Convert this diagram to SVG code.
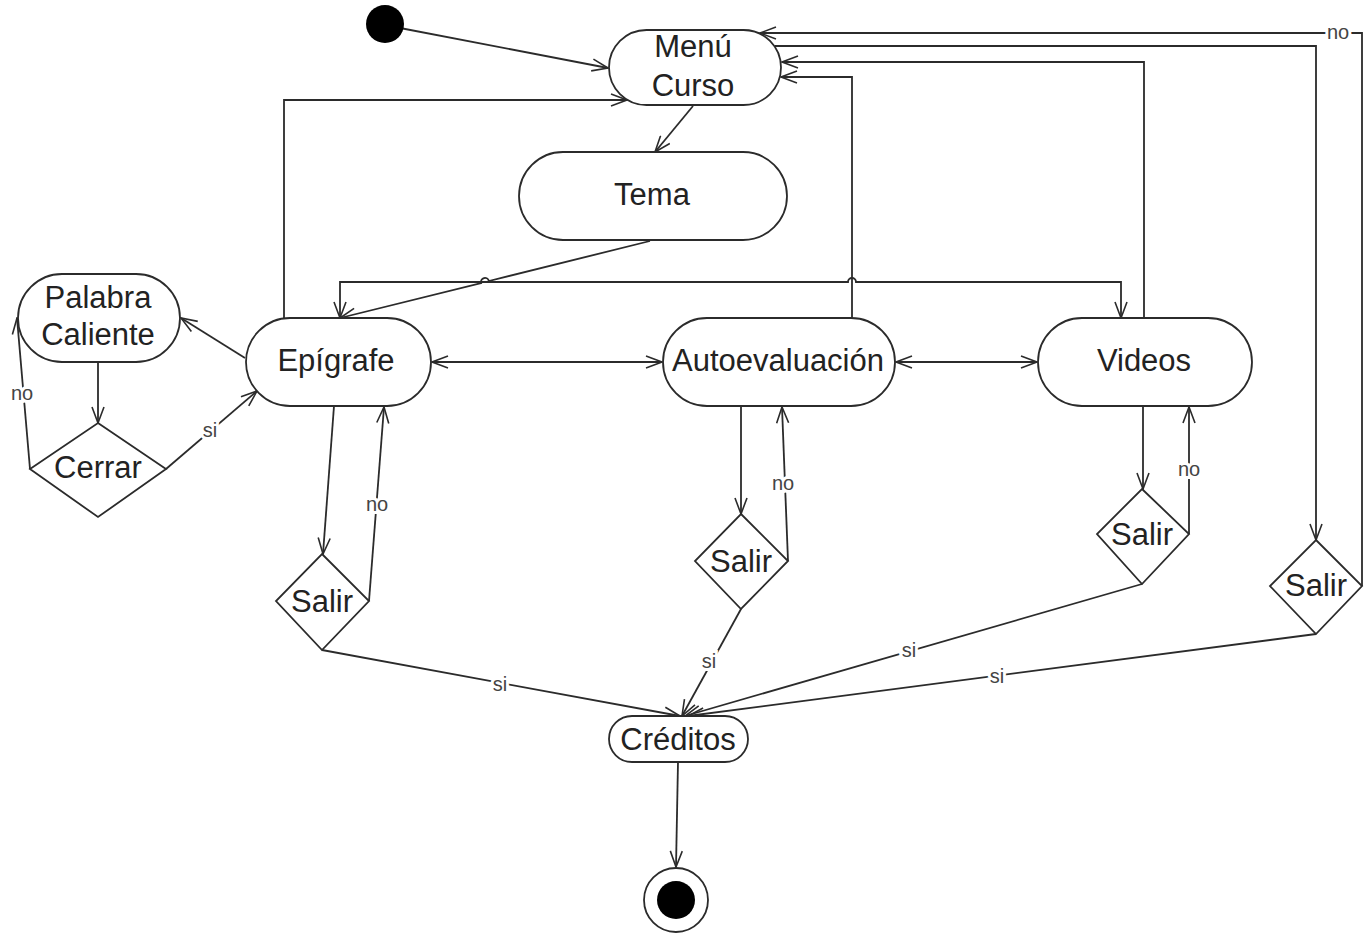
<svg xmlns="http://www.w3.org/2000/svg" width="1372" height="934" viewBox="0 0 1372 934">
  <style>
    .node { fill: #fff; stroke: #2b2b2b; stroke-width: 1.8; }
    .t { font-family: "Liberation Sans", Arial, sans-serif; font-size: 31px; fill: #222; text-anchor: middle; }
    .edge { fill: none; stroke: #2b2b2b; stroke-width: 1.8; }
    .lbl { font-family: "Liberation Sans", Arial, sans-serif; font-size: 20px; fill: #444; text-anchor: middle; dominant-baseline: central; stroke: #fff; stroke-width: 6; paint-order: stroke; }
  </style>
  <defs>
    <marker id="arr" viewBox="0 0 18 14" refX="17" refY="7" markerWidth="18" markerHeight="14" orient="auto-start-reverse" markerUnits="userSpaceOnUse">
      <path d="M1,1 L17,7 L1,13" fill="none" stroke="#2b2b2b" stroke-width="1.6"/>
    </marker>
  </defs>
  <rect width="1372" height="934" fill="#fff"/>

  <!-- connectors -->
  <g id="connectors">
    <line class="edge" x1="400" y1="28" x2="608" y2="68" marker-end="url(#arr)"/>
    <line class="edge" x1="693" y1="106" x2="655" y2="152" marker-end="url(#arr)"/>
    <!-- Tema to Epígrafe, hopping over the horizontal line -->
    <path class="edge" d="M650,241 L488.9,281 A4,4 0 0 0 481.1,283 L340,318" marker-end="url(#arr)"/>
    <!-- Epígrafe / Videos link, hopping over the vertical at x=852 -->
    <path class="edge" d="M340,318 L340,282 L848,282 A4,4 0 0 1 856,282 L1121,282 L1121,318" marker-start="url(#arr)" marker-end="url(#arr)"/>
    <!-- back to Menú Curso -->
    <path class="edge" d="M284,318 L284,100 L627,100" marker-end="url(#arr)"/>
    <path class="edge" d="M852,318 L852,77 L781,77" marker-end="url(#arr)"/>
    <path class="edge" d="M1144,318 L1144,62 L782,62" marker-end="url(#arr)"/>
    <path class="edge" d="M775,46 L1316,46 L1316,540" marker-end="url(#arr)"/>
    <path class="edge" d="M1362,586 L1362,33 L760,33" marker-end="url(#arr)"/>
    <text class="lbl" x="1338" y="32">no</text>

    <!-- Epígrafe row -->
    <line class="edge" x1="432" y1="362" x2="662" y2="362" marker-start="url(#arr)" marker-end="url(#arr)"/>
    <line class="edge" x1="896" y1="362" x2="1037" y2="362" marker-start="url(#arr)" marker-end="url(#arr)"/>

    <!-- Palabra Caliente loop -->
    <line class="edge" x1="245" y1="358" x2="181" y2="318" marker-end="url(#arr)"/>
    <line class="edge" x1="98" y1="362" x2="98" y2="423" marker-end="url(#arr)"/>
    <line class="edge" x1="166" y1="469" x2="257" y2="391" marker-end="url(#arr)"/>
    <text class="lbl" x="210" y="430">si</text>
    <line class="edge" x1="30" y1="469" x2="17" y2="318" marker-end="url(#arr)"/>
    <text class="lbl" x="22" y="393">no</text>

    <!-- Epígrafe decision -->
    <line class="edge" x1="334" y1="406" x2="323" y2="554" marker-end="url(#arr)"/>
    <line class="edge" x1="369" y1="601" x2="384" y2="407" marker-end="url(#arr)"/>
    <text class="lbl" x="377" y="504">no</text>

    <!-- Autoevaluación decision -->
    <line class="edge" x1="741" y1="406" x2="741" y2="514" marker-end="url(#arr)"/>
    <line class="edge" x1="788" y1="561" x2="782" y2="407" marker-end="url(#arr)"/>
    <text class="lbl" x="783" y="483">no</text>

    <!-- Videos decision -->
    <line class="edge" x1="1143" y1="406" x2="1143" y2="489" marker-end="url(#arr)"/>
    <line class="edge" x1="1189" y1="534" x2="1189" y2="407" marker-end="url(#arr)"/>
    <text class="lbl" x="1189" y="469">no</text>

    <!-- exits to Créditos -->
    <line class="edge" x1="322" y1="650" x2="680" y2="716" marker-end="url(#arr)"/>
    <text class="lbl" x="500" y="684">si</text>
    <line class="edge" x1="741" y1="609" x2="682" y2="716" marker-end="url(#arr)"/>
    <text class="lbl" x="709" y="661">si</text>
    <line class="edge" x1="1142" y1="584" x2="685" y2="716" marker-end="url(#arr)"/>
    <text class="lbl" x="909" y="650">si</text>
    <line class="edge" x1="1316" y1="634" x2="688" y2="716" marker-end="url(#arr)"/>
    <text class="lbl" x="997" y="676">si</text>

    <line class="edge" x1="678" y1="762" x2="676" y2="867" marker-end="url(#arr)"/>
  </g>

  <!-- nodes -->
  <g id="inicio">
    <circle cx="385" cy="24" r="19" fill="#000"/>
  </g>
  <g id="menu-curso">
    <rect class="node" x="609" y="30" width="172" height="75" rx="37.5"/>
    <text class="t" x="693" y="57">Menú</text>
    <text class="t" x="693" y="96">Curso</text>
  </g>
  <g id="tema">
    <rect class="node" x="519" y="152" width="268" height="88" rx="44"/>
    <text class="t" x="652" y="205">Tema</text>
  </g>
  <g id="palabra-caliente">
    <rect class="node" x="18" y="274" width="162" height="88" rx="44"/>
    <text class="t" x="98" y="308">Palabra</text>
    <text class="t" x="98" y="345">Caliente</text>
  </g>
  <g id="cerrar">
    <polygon class="node" points="98,423 166,469 98,517 30,469"/>
    <text class="t" x="98" y="478">Cerrar</text>
  </g>
  <g id="epigrafe">
    <rect class="node" x="246" y="318" width="185" height="88" rx="44"/>
    <text class="t" x="336" y="371">Epígrafe</text>
  </g>
  <g id="autoevaluacion">
    <rect class="node" x="663" y="318" width="232" height="88" rx="44"/>
    <text class="t" x="778" y="371">Autoevaluación</text>
  </g>
  <g id="videos">
    <rect class="node" x="1038" y="318" width="214" height="88" rx="44"/>
    <text class="t" x="1144" y="371">Videos</text>
  </g>
  <g id="salir-epigrafe">
    <polygon class="node" points="322,554 369,601 322,650 276,601"/>
    <text class="t" x="322" y="612">Salir</text>
  </g>
  <g id="salir-autoevaluacion">
    <polygon class="node" points="741,514 788,561 741,609 695,561"/>
    <text class="t" x="741" y="572">Salir</text>
  </g>
  <g id="salir-videos">
    <polygon class="node" points="1142,489 1189,534 1142,584 1097,534"/>
    <text class="t" x="1142" y="545">Salir</text>
  </g>
  <g id="salir-menu">
    <polygon class="node" points="1316,540 1362,586 1316,634 1270,586"/>
    <text class="t" x="1316" y="596">Salir</text>
  </g>
  <g id="creditos">
    <rect class="node" x="609" y="716" width="139" height="46" rx="23"/>
    <text class="t" x="678" y="750">Créditos</text>
  </g>
  <g id="fin">
    <circle cx="676" cy="900" r="32" fill="#fff" stroke="#2b2b2b" stroke-width="1.8"/>
    <circle cx="676" cy="900" r="19" fill="#000"/>
  </g>
</svg>
